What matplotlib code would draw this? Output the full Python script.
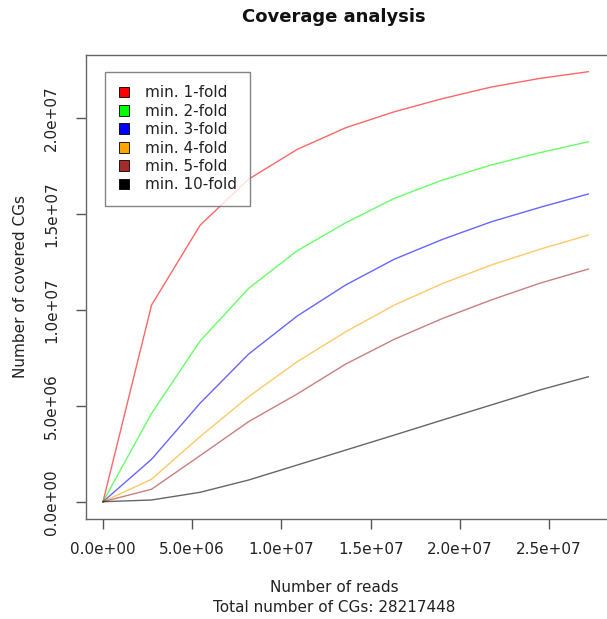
import numpy as np
import matplotlib
matplotlib.use("Agg")
import matplotlib.pyplot as plt
from matplotlib.patches import Patch

# lecturas (millones) y CGs cubiertos (millones) para cada umbral de cobertura
reads = [0, 2.72, 5.44, 8.16, 10.88, 13.60, 16.32, 19.04, 21.76, 24.48, 27.20]

cov_1 = [0, 10.24, 14.40, 16.80, 18.35, 19.48, 20.31, 21.00, 21.60, 22.05, 22.40]
cov_2 = [0, 4.60, 8.37, 11.11, 13.07, 14.53, 15.80, 16.76, 17.54, 18.18, 18.75]
cov_3 = [0, 2.21, 5.13, 7.69, 9.67, 11.29, 12.63, 13.67, 14.58, 15.33, 16.03]
cov_4 = [0, 1.17, 3.39, 5.47, 7.29, 8.85, 10.24, 11.37, 12.33, 13.15, 13.89]
cov_5 = [0, 0.65, 2.40, 4.17, 5.61, 7.17, 8.46, 9.55, 10.51, 11.38, 12.12]
cov_10 = [0, 0.09, 0.49, 1.13, 1.91, 2.69, 3.47, 4.26, 5.04, 5.82, 6.51]

series = [cov_1, cov_2, cov_3, cov_4, cov_5, cov_10]
labels = ["min. 1-fold", "min. 2-fold", "min. 3-fold", "min. 4-fold", "min. 5-fold", "min. 10-fold"]
colors = ["#ff0000", "#00ff00", "#0000ff", "#ffa500", "#a52a2a", "#000000"]

x_ticks = [0, 5e6, 10e6, 15e6, 20e6, 25e6]
x_ticklabels = ["0.0e+00", "5.0e+06", "1.0e+07", "1.5e+07", "2.0e+07", "2.5e+07"]
y_ticks = [0, 5e6, 10e6, 15e6, 20e6]
y_ticklabels = ["0.0e+00", "5.0e+06", "1.0e+07", "1.5e+07", "2.0e+07"]

total_cgs = 28217448
M = 1e6

W, H = 607, 619
fig = plt.figure(figsize=(W / 100, H / 100), dpi=100)
ax = fig.add_axes([86 / W, (H - 519) / H, 523 / W, 464 / H])

x = np.array(reads) * M
for s, c in zip(series, colors):
    ax.plot(x, np.array(s) * M, color=c, alpha=0.6, lw=1.0)

ax.set_xlim(-0.953e6, 28.36e6)
ax.set_ylim(-0.90e6, 23.27e6)

ax.set_xticks(x_ticks)
ax.set_xticklabels(x_ticklabels, fontsize=11, color="#222222")
ax.set_yticks(y_ticks)
ax.set_yticklabels(y_ticklabels, fontsize=11, color="#222222", rotation=90, va="center")
ax.tick_params(axis="both", direction="out", length=7.2, width=1.0, color="#555555")
ax.tick_params(axis="x", pad=9)
ax.tick_params(axis="y", pad=12)

for sp in ax.spines.values():
    sp.set_color("#666666")
    sp.set_linewidth(1.0)

handles = [Patch(facecolor=c, edgecolor="black", linewidth=0.6) for c in colors]
leg = ax.legend(handles, labels, loc="upper left", bbox_to_anchor=(0.0363, 0.964),
                borderaxespad=0, fancybox=False, fontsize=11,
                handlelength=0.7, handleheight=0.7, handletextpad=1.0,
                labelspacing=0.22, borderpad=0.9)
leg.get_frame().set_edgecolor("#666666")
leg.get_frame().set_linewidth(1.0)
for t in leg.get_texts():
    t.set_color("#222222")

fig.text(334 / W, 1 - 16.7 / H, "Coverage analysis", fontsize=13, fontweight="bold",
         ha="center", va="center", color="#111111")
fig.text(334 / W, 1 - 588 / H, "Number of reads", fontsize=11, ha="center", va="center",
         color="#222222")
fig.text(334 / W, 1 - 607 / H, "Total number of CGs: %d" % total_cgs, fontsize=11,
         ha="center", va="center", color="#222222")
fig.text(20.7 / W, 1 - 286 / H, "Number of covered CGs", fontsize=11, rotation=90,
         ha="center", va="center", color="#222222")

fig.savefig("out.png", dpi=100)
